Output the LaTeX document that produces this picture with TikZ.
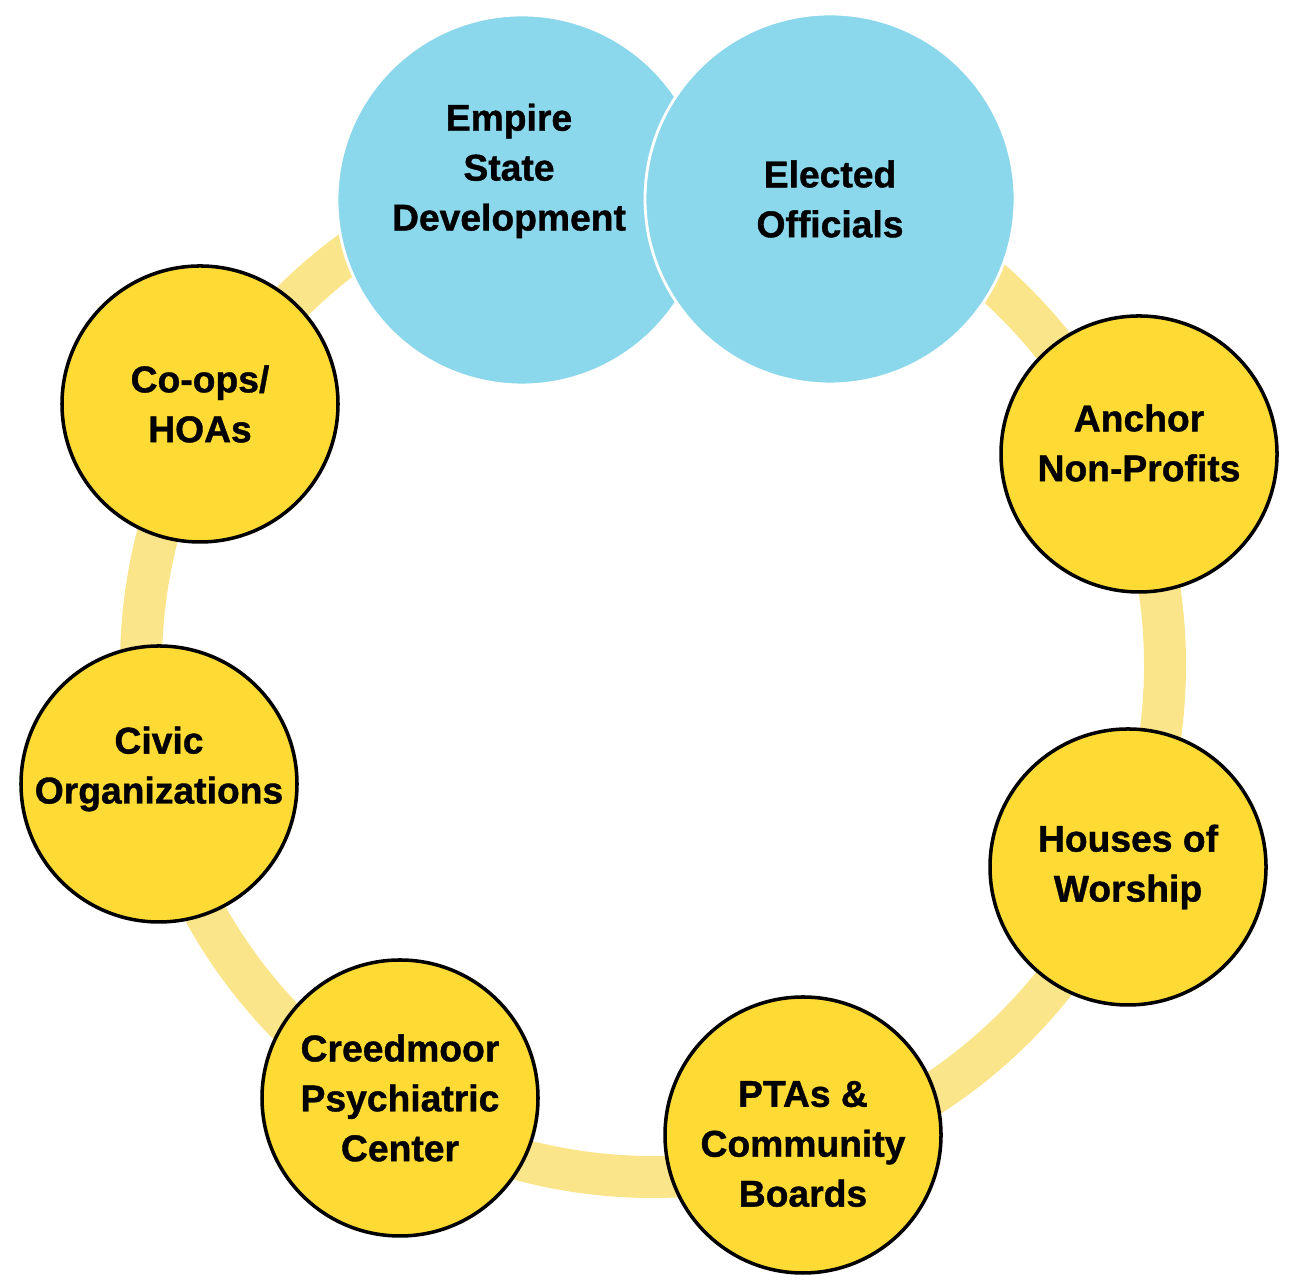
\documentclass[tikz,border=0pt]{standalone}
\usepackage{fontspec}
\setsansfont{Liberation Sans}
\definecolor{bubyellow}{RGB}{253,218,52}
\definecolor{ringyellow}{RGB}{251,229,138}
\definecolor{bubblue}{RGB}{139,215,236}
\tikzset{every picture/.style={/utils/exec={\sffamily}}}
\usetikzlibrary{positioning}

\tikzset{
  bubtext/.style={font=\fontsize{10.6}{14.2}\selectfont\bfseries\addfontfeatures{FakeBold=1}, align=center, text=black},
  yellowbub/.style={circle, draw=black, line width=1pt, fill=bubyellow, minimum size=2.76cm, inner sep=0pt, bubtext},
  bluebub/.style={circle, draw=white, line width=0.8pt, fill=bubblue, minimum size=3.7cm, inner sep=0pt, bubtext},
}

\begin{document}
\begin{tikzpicture}
  \useasboundingbox (0,0) rectangle (12.91,12.80);

  % the ring behind everything
  \draw [ringyellow, line width=0.42cm] (6.53,6.15) circle (5.12);

  \node[yellowbub] (coops) at (2.00,8.76) {Co-ops/\\HOAs};
  \node[yellowbub, label={[bubtext, yshift=1.1mm]center:{Anchor\\Non-Profits}}] (anchor) at (11.39,8.26) {};
  \node[yellowbub, label={[bubtext, yshift=1.5mm]center:{Civic\\Organizations}}] (civic) at (1.59,4.96) {};
  \node[yellowbub] (houses) at (11.28,4.13) {Houses of\\Worship};
  \node[yellowbub] (creedmoor) at (4.00,1.82) {Creedmoor\\Psychiatric\\Center};
  \node[yellowbub, label={[bubtext, yshift=-0.9mm]center:{PTAs \&\\Community\\Boards}}] (ptas) at (8.03,1.45) {};

  % the two blue ones on top
  \node[bluebub, label={[bubtext, xshift=-1.3mm, yshift=2.9mm]center:{Empire\\State\\Development}}] (esd) at (5.22,10.80) {};
  \node[bluebub] (elected) at (8.30,10.81) {Elected\\Officials};

\end{tikzpicture}
\end{document}
